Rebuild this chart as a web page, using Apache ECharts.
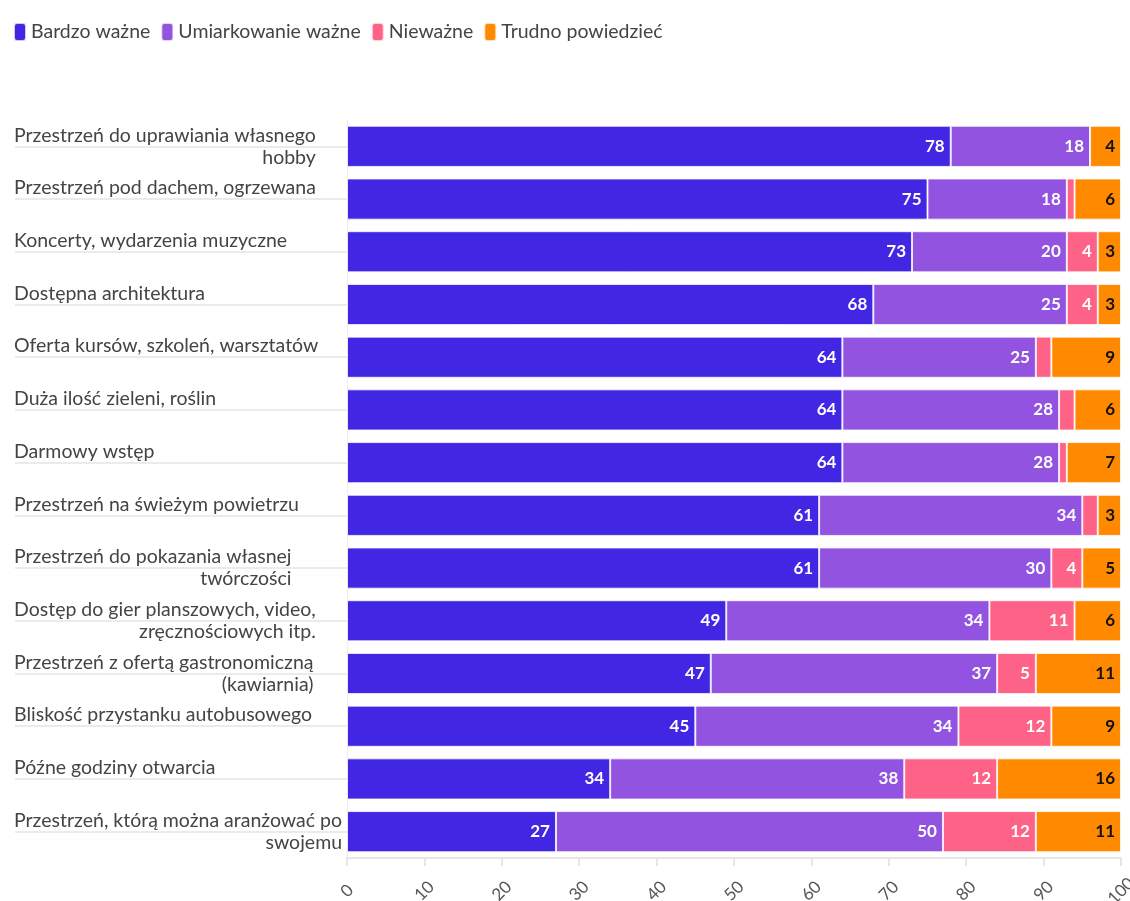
<!DOCTYPE html>
<html>
<head>
<meta charset="utf-8">
<script src="https://cdn.jsdelivr.net/npm/echarts@6/dist/echarts.min.js"></script>
<style>
  html, body { margin: 0; padding: 0; background: #fff; }
  #chart { width: 1130px; height: 901px; }
</style>
</head>
<body>
<div id="chart"></div>
<script>
// Survey: how important is each feature of a cultural space (percent of answers)
const categories = [
  'Przestrzeń do uprawiania własnego\nhobby',
  'Przestrzeń pod dachem, ogrzewana',
  'Koncerty, wydarzenia muzyczne',
  'Dostępna architektura',
  'Oferta kursów, szkoleń, warsztatów',
  'Duża ilość zieleni, roślin',
  'Darmowy wstęp',
  'Przestrzeń na świeżym powietrzu',
  'Przestrzeń do pokazania własnej\ntwórczości',
  'Dostęp do gier planszowych, video,\nzręcznościowych itp.',
  'Przestrzeń z ofertą gastronomiczną\n(kawiarnia)',
  'Bliskość przystanku autobusowego',
  'Późne godziny otwarcia',
  'Przestrzeń, którą można aranżować po\nswojemu'
];
const seriesNames = ['Bardzo ważne', 'Umiarkowanie ważne', 'Nieważne', 'Trudno powiedzieć'];
const bardzoWazne       = [78, 75, 73, 68, 64, 64, 64, 61, 61, 49, 47, 45, 34, 27];
const umiarkowanieWazne = [18, 18, 20, 25, 25, 28, 28, 34, 30, 34, 37, 34, 38, 50];
const niewazne          = [0, 1, 4, 4, 2, 2, 1, 2, 4, 11, 5, 12, 12, 12];
const trudnoPowiedziec  = [4, 6, 3, 3, 9, 6, 7, 3, 5, 6, 11, 9, 16, 11];
const xTicks = [0, 10, 20, 30, 40, 50, 60, 70, 80, 90, 100];

const colors = ['#4127e4', '#9153e0', '#ff6287', '#ff8a00'];
const labelColors = ['#ffffff', '#ffffff', '#ffffff', '#111111'];
const values = [bardzoWazne, umiarkowanieWazne, niewazne, trudnoPowiedziec];

const FONT = 'Lato, "Noto Sans", sans-serif';

const chart = echarts.init(document.getElementById('chart'), null, { renderer: 'canvas' });

chart.setOption({
  animation: false,
  color: colors,
  legend: {
    left: 8,
    top: 17,
    itemWidth: 12,
    itemHeight: 18,
    itemGap: 10,
    icon: 'roundRect',
    textStyle: { fontFamily: FONT, fontSize: 19.5, color: '#444' },
    data: seriesNames
  },
  grid: { left: 347, right: 9, top: 120, bottom: 43, containLabel: false, outerBoundsMode: 'none' },
  xAxis: {
    type: 'value',
    min: xTicks[0],
    max: xTicks[xTicks.length - 1],
    interval: 10,
    axisLine: { show: true, lineStyle: { color: '#e6e6e6', width: 2 } },
    axisTick: { show: true, length: 8, lineStyle: { color: '#e6e6e6', width: 2 } },
    splitLine: { show: false },
    axisLabel: {
      rotate: 45,
      align: 'center',
      verticalAlign: 'middle',
      margin: 33,
      fontFamily: FONT,
      fontSize: 17,
      color: '#555'
    }
  },
  yAxis: {
    type: 'category',
    inverse: true,
    data: categories,
    axisLine: { show: true, lineStyle: { color: '#eeeeee', width: 1 } },
    axisTick: {
      show: true,
      alignWithLabel: true,
      length: 332,
      lineStyle: { color: '#ebebeb', width: 2 }
    },
    axisLabel: {
      align: 'left',
      margin: 333,
      verticalAlign: 'middle',
      formatter: function (v) {
        const parts = v.split('\n');
        return '{l|' + parts[0] + '}\n' + (parts[1] ? '{r|' + parts[1] + '}' : '{l| }');
      },
      rich: {
        l: { fontFamily: FONT, fontSize: 19.5, color: '#444', lineHeight: 22, align: 'left' },
        r: { fontFamily: FONT, fontSize: 19.5, color: '#444', lineHeight: 22, align: 'right' }
      }
    }
  },
  series: seriesNames.map(function (name, i) {
    return {
      name: name,
      type: 'bar',
      stack: 'total',
      barCategoryGap: '22%',
      data: values[i],
      itemStyle: { color: colors[i], borderColor: 'rgba(255,255,255,0.75)', borderWidth: 1 },
      label: {
        show: true,
        position: 'insideRight',
        distance: 6,
        fontFamily: FONT,
        fontSize: 17,
        fontWeight: 'bold',
        color: labelColors[i],
        formatter: function (p) { return p.value >= 3 ? String(p.value) : ''; }
      }
    };
  })
});
</script>
</body>
</html>
